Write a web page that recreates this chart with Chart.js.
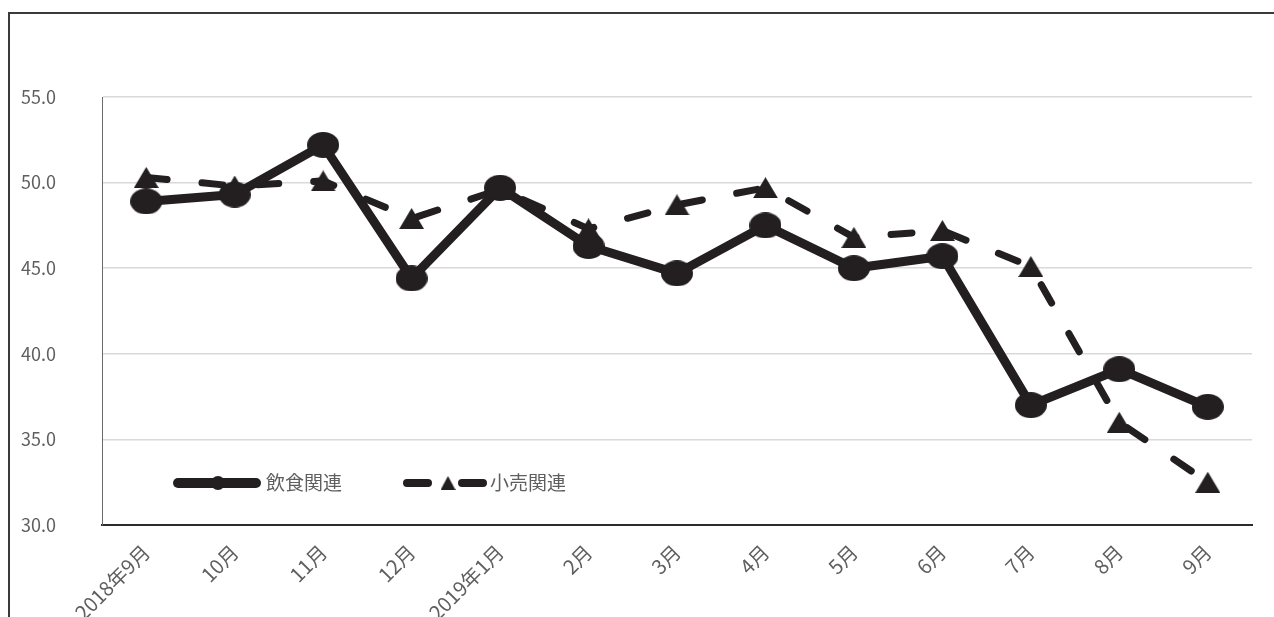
<!DOCTYPE html>
<html lang="ja">
<head>
<meta charset="UTF-8">
<title>飲食関連・小売関連</title>
<script src="https://cdn.jsdelivr.net/npm/chart.js"></script>
<style>
  html, body { margin: 0; padding: 0; background: #fff; overflow: hidden; }
  #frame { position: absolute; left: 8px; top: 12px; width: 1300px; height: 700px;
           border-left: 2px solid #3a3a3a; border-top: 2px solid #3a3a3a; }
  #wrap { position: absolute; left: 0; top: 0; width: 1274px; height: 680px; }
</style>
</head>
<body>
<div id="frame"></div>
<div id="wrap"><canvas id="chart"></canvas></div>
<script>
const months = ['2018年9月', '10月', '11月', '12月', '2019年1月', '2月', '3月', '4月', '5月', '6月', '7月', '8月', '9月'];
const seriesNames = ['飲食関連', '小売関連'];
const food = [48.9, 49.3, 52.2, 44.4, 49.7, 46.3, 44.7, 47.5, 45.0, 45.7, 37.0, 39.1, 36.9];
const retail = [50.3, 49.8, 50.1, 47.9, 49.6, 47.3, 48.7, 49.7, 46.8, 47.2, 45.1, 36.0, 32.5];
const yTicks = [30, 35, 40, 45, 50, 55];

const INK = '#231f20';
const GREY = '#5f5f5f';
const FONT = "'Noto Sans CJK JP', 'Noto Sans', sans-serif";

function ellipseMarker(w, h) {
  const c = document.createElement('canvas');
  c.width = w; c.height = h;
  const g = c.getContext('2d');
  g.fillStyle = INK;
  g.beginPath();
  g.ellipse(w / 2, h / 2, w / 2, h / 2, 0, 0, Math.PI * 2);
  g.fill();
  return c;
}

function triangleMarker(w, h) {
  const c = document.createElement('canvas');
  c.width = w; c.height = h;
  const g = c.getContext('2d');
  g.fillStyle = INK;
  g.beginPath();
  g.moveTo(w / 2, 0);
  g.lineTo(w, h);
  g.lineTo(0, h);
  g.closePath();
  g.fill();
  return c;
}

// legend drawn inside the plot, bottom left: line sample + marker + label
const insideLegend = {
  id: 'insideLegend',
  afterDraw(chart) {
    const ctx = chart.ctx;
    const y = 483;
    ctx.save();
    ctx.strokeStyle = INK;
    ctx.lineCap = 'round';

    ctx.lineWidth = 10;
    ctx.beginPath();
    ctx.moveTo(178, y); ctx.lineTo(256, y);
    ctx.stroke();
    const dot = ellipseMarker(14, 14);
    ctx.drawImage(dot, 218 - 7, y - 7);

    ctx.lineWidth = 8;
    ctx.beginPath();
    ctx.moveTo(407, y); ctx.lineTo(428, y);
    ctx.moveTo(462, y); ctx.lineTo(483, y);
    ctx.stroke();
    const tri = triangleMarker(15, 14);
    ctx.drawImage(tri, 448 - 7.5, y - 7);

    ctx.fillStyle = GREY;
    ctx.font = '19px ' + FONT;
    ctx.textBaseline = 'middle';
    ctx.fillText(seriesNames[0], 266, y);
    ctx.fillText(seriesNames[1], 490, y);
    ctx.restore();
  }
};

new Chart(document.getElementById('chart'), {
  type: 'line',
  data: {
    labels: months,
    datasets: [
      {
        label: seriesNames[0],
        data: food,
        borderColor: INK,
        backgroundColor: INK,
        borderWidth: 9,
        borderJoinStyle: 'round',
        borderCapStyle: 'round',
        pointStyle: ellipseMarker(32, 26),
        pointRadius: 13,
        tension: 0
      },
      {
        label: seriesNames[1],
        data: retail,
        borderColor: INK,
        backgroundColor: INK,
        borderWidth: 7,
        borderDash: [21, 35],
        borderCapStyle: 'round',
        pointStyle: triangleMarker(25, 21),
        pointRadius: 11,
        tension: 0
      }
    ]
  },
  options: {
    responsive: true,
    maintainAspectRatio: false,
    animation: false,
    layout: { padding: { top: 97, right: 22, left: 0, bottom: 0 } },
    plugins: {
      legend: { display: false },
      tooltip: { enabled: false }
    },
    scales: {
      x: {
        offset: true,
        grid: { display: false, drawTicks: false },
        border: { color: '#2b2b2b', width: 2 },
        ticks: {
          color: GREY,
          font: { family: FONT, size: 20 },
          minRotation: 45,
          maxRotation: 45,
          padding: 15,
          autoSkip: false
        },
        afterFit(scale) { scale.height = 155; }
      },
      y: {
        min: 30,
        max: 55,
        afterBuildTicks(scale) { scale.ticks = yTicks.map(v => ({ value: v })); },
        grid: { color: '#d9d9d9', lineWidth: 1.5, drawTicks: false },
        border: { color: '#6b6b6b', width: 1 },
        ticks: {
          color: GREY,
          font: { family: FONT, size: 18 },
          padding: 46,
          callback: v => v.toFixed(1)
        },
        afterFit(scale) { scale.width = 102; }
      }
    }
  },
  plugins: [insideLegend]
});
</script>
</body>
</html>
